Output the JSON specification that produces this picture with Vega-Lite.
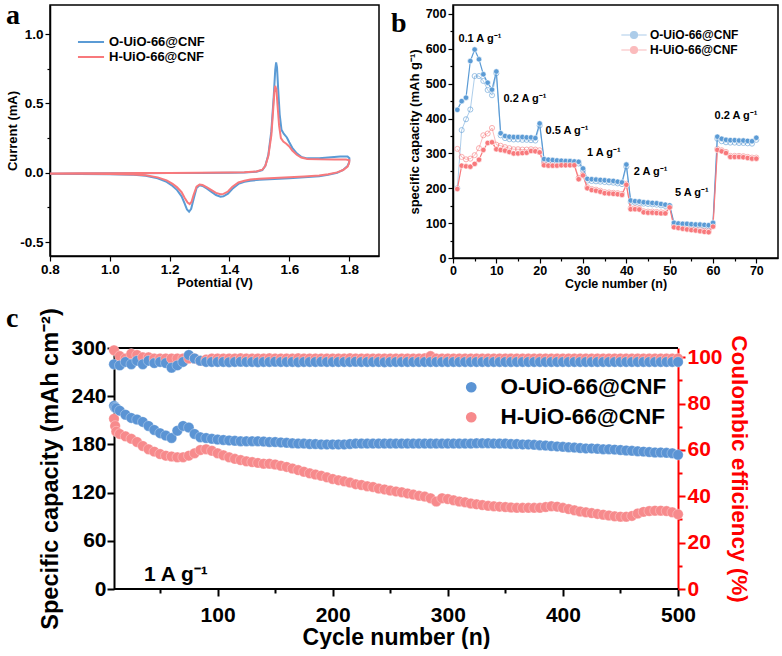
{
"$schema": "https://vega.github.io/schema/vega-lite/v6.json",
"padding": {"left": 5, "top": 0, "right": 0, "bottom": 0},
"background": "white",
"config": {
  "font": "Liberation Sans",
  "view": {"stroke": "black", "strokeWidth": 1.5},
  "axis": {"grid": false, "labelFont": "Liberation Sans", "titleFont": "Liberation Sans", "labelFontWeight": "bold", "titleFontWeight": "bold", "labelColor": "black", "titleColor": "black", "domainColor": "black", "tickColor": "black", "labelFlush": false, "labelOverlap": false},
  "legend": {"labelFont": "Liberation Sans", "labelFontWeight": "bold", "labelColor": "black", "labelLimit": 400}
},
"datasets": {
  "cv": [
    {"s":"O","k":0,"v":0.8,"i":-0.006},{"s":"O","k":1,"v":0.9,"i":-0.005},{"s":"O","k":2,"v":1.0,"i":-0.004},{"s":"O","k":3,"v":1.1,"i":-0.003},{"s":"O","k":4,"v":1.2,"i":-0.002},{"s":"O","k":5,"v":1.3,"i":-0.001},{"s":"O","k":6,"v":1.4,"i":0.001},{"s":"O","k":7,"v":1.45,"i":0.003},{"s":"O","k":8,"v":1.49,"i":0.008},{"s":"O","k":9,"v":1.51,"i":0.02},{"s":"O","k":10,"v":1.52,"i":0.05},{"s":"O","k":11,"v":1.53,"i":0.13},{"s":"O","k":12,"v":1.54,"i":0.3},{"s":"O","k":13,"v":1.548,"i":0.55},{"s":"O","k":14,"v":1.553,"i":0.74},{"s":"O","k":15,"v":1.556,"i":0.796},{"s":"O","k":16,"v":1.559,"i":0.76},{"s":"O","k":17,"v":1.563,"i":0.6},{"s":"O","k":18,"v":1.568,"i":0.42},{"s":"O","k":19,"v":1.574,"i":0.31},{"s":"O","k":20,"v":1.582,"i":0.28},{"s":"O","k":21,"v":1.592,"i":0.255},{"s":"O","k":22,"v":1.6,"i":0.22},{"s":"O","k":23,"v":1.61,"i":0.18},{"s":"O","k":24,"v":1.625,"i":0.14},{"s":"O","k":25,"v":1.64,"i":0.115},{"s":"O","k":26,"v":1.66,"i":0.104},{"s":"O","k":27,"v":1.7,"i":0.105},{"s":"O","k":28,"v":1.74,"i":0.112},{"s":"O","k":29,"v":1.77,"i":0.118},{"s":"O","k":30,"v":1.795,"i":0.117},{"s":"O","k":31,"v":1.801,"i":0.105},{"s":"O","k":32,"v":1.8,"i":0.075},{"s":"O","k":33,"v":1.795,"i":0.05},{"s":"O","k":34,"v":1.78,"i":0.02},{"s":"O","k":35,"v":1.76,"i":0.0},{"s":"O","k":36,"v":1.73,"i":-0.015},{"s":"O","k":37,"v":1.7,"i":-0.025},{"s":"O","k":38,"v":1.65,"i":-0.033},{"s":"O","k":39,"v":1.6,"i":-0.04},{"s":"O","k":40,"v":1.55,"i":-0.045},{"s":"O","k":41,"v":1.5,"i":-0.051},{"s":"O","k":42,"v":1.47,"i":-0.057},{"s":"O","k":43,"v":1.45,"i":-0.065},{"s":"O","k":44,"v":1.43,"i":-0.08},{"s":"O","k":45,"v":1.41,"i":-0.115},{"s":"O","k":46,"v":1.395,"i":-0.15},{"s":"O","k":47,"v":1.38,"i":-0.17},{"s":"O","k":48,"v":1.37,"i":-0.172},{"s":"O","k":49,"v":1.355,"i":-0.16},{"s":"O","k":50,"v":1.34,"i":-0.138},{"s":"O","k":51,"v":1.325,"i":-0.115},{"s":"O","k":52,"v":1.31,"i":-0.095},{"s":"O","k":53,"v":1.3,"i":-0.09},{"s":"O","k":54,"v":1.29,"i":-0.11},{"s":"O","k":55,"v":1.28,"i":-0.19},{"s":"O","k":56,"v":1.272,"i":-0.26},{"s":"O","k":57,"v":1.265,"i":-0.281},{"s":"O","k":58,"v":1.258,"i":-0.265},{"s":"O","k":59,"v":1.25,"i":-0.22},{"s":"O","k":60,"v":1.24,"i":-0.17},{"s":"O","k":61,"v":1.225,"i":-0.125},{"s":"O","k":62,"v":1.21,"i":-0.095},{"s":"O","k":63,"v":1.19,"i":-0.065},{"s":"O","k":64,"v":1.16,"i":-0.04},{"s":"O","k":65,"v":1.12,"i":-0.022},{"s":"O","k":66,"v":1.08,"i":-0.014},{"s":"O","k":67,"v":1.0,"i":-0.01},{"s":"O","k":68,"v":0.9,"i":-0.008},{"s":"O","k":69,"v":0.8,"i":-0.007},
    {"s":"H","k":0,"v":0.8,"i":-0.005},{"s":"H","k":1,"v":0.9,"i":-0.004},{"s":"H","k":2,"v":1.0,"i":-0.003},{"s":"H","k":3,"v":1.1,"i":-0.002},{"s":"H","k":4,"v":1.2,"i":-0.001},{"s":"H","k":5,"v":1.3,"i":0.0},{"s":"H","k":6,"v":1.4,"i":0.002},{"s":"H","k":7,"v":1.45,"i":0.004},{"s":"H","k":8,"v":1.49,"i":0.009},{"s":"H","k":9,"v":1.51,"i":0.022},{"s":"H","k":10,"v":1.52,"i":0.05},{"s":"H","k":11,"v":1.53,"i":0.12},{"s":"H","k":12,"v":1.54,"i":0.27},{"s":"H","k":13,"v":1.546,"i":0.45},{"s":"H","k":14,"v":1.55,"i":0.58},{"s":"H","k":15,"v":1.553,"i":0.627},{"s":"H","k":16,"v":1.557,"i":0.6},{"s":"H","k":17,"v":1.561,"i":0.48},{"s":"H","k":18,"v":1.566,"i":0.34},{"s":"H","k":19,"v":1.572,"i":0.25},{"s":"H","k":20,"v":1.58,"i":0.225},{"s":"H","k":21,"v":1.59,"i":0.21},{"s":"H","k":22,"v":1.6,"i":0.19},{"s":"H","k":23,"v":1.61,"i":0.16},{"s":"H","k":24,"v":1.625,"i":0.13},{"s":"H","k":25,"v":1.64,"i":0.11},{"s":"H","k":26,"v":1.66,"i":0.1},{"s":"H","k":27,"v":1.7,"i":0.097},{"s":"H","k":28,"v":1.75,"i":0.096},{"s":"H","k":29,"v":1.79,"i":0.095},{"s":"H","k":30,"v":1.801,"i":0.09},{"s":"H","k":31,"v":1.8,"i":0.07},{"s":"H","k":32,"v":1.795,"i":0.045},{"s":"H","k":33,"v":1.78,"i":0.02},{"s":"H","k":34,"v":1.76,"i":0.003},{"s":"H","k":35,"v":1.73,"i":-0.01},{"s":"H","k":36,"v":1.7,"i":-0.02},{"s":"H","k":37,"v":1.65,"i":-0.027},{"s":"H","k":38,"v":1.6,"i":-0.033},{"s":"H","k":39,"v":1.55,"i":-0.038},{"s":"H","k":40,"v":1.5,"i":-0.043},{"s":"H","k":41,"v":1.47,"i":-0.049},{"s":"H","k":42,"v":1.45,"i":-0.057},{"s":"H","k":43,"v":1.43,"i":-0.07},{"s":"H","k":44,"v":1.41,"i":-0.1},{"s":"H","k":45,"v":1.395,"i":-0.135},{"s":"H","k":46,"v":1.38,"i":-0.152},{"s":"H","k":47,"v":1.37,"i":-0.155},{"s":"H","k":48,"v":1.355,"i":-0.145},{"s":"H","k":49,"v":1.34,"i":-0.125},{"s":"H","k":50,"v":1.325,"i":-0.105},{"s":"H","k":51,"v":1.31,"i":-0.088},{"s":"H","k":52,"v":1.3,"i":-0.084},{"s":"H","k":53,"v":1.29,"i":-0.1},{"s":"H","k":54,"v":1.28,"i":-0.16},{"s":"H","k":55,"v":1.273,"i":-0.21},{"s":"H","k":56,"v":1.267,"i":-0.226},{"s":"H","k":57,"v":1.26,"i":-0.215},{"s":"H","k":58,"v":1.25,"i":-0.18},{"s":"H","k":59,"v":1.24,"i":-0.14},{"s":"H","k":60,"v":1.225,"i":-0.105},{"s":"H","k":61,"v":1.21,"i":-0.08},{"s":"H","k":62,"v":1.19,"i":-0.055},{"s":"H","k":63,"v":1.16,"i":-0.033},{"s":"H","k":64,"v":1.12,"i":-0.018},{"s":"H","k":65,"v":1.08,"i":-0.012},{"s":"H","k":66,"v":1.0,"i":-0.008},{"s":"H","k":67,"v":0.9,"i":-0.006},{"s":"H","k":68,"v":0.8,"i":-0.006}
  ],
  "pa": [{"v":0.653,"i":1.075,"t":"a"}],
  "pb": [{"n":-14.3,"y":648.3,"t":"b"}],
  "pc": [{"n":-83.8,"y":326.1,"t":"c"}],
  "cf": [{"a":10,"b":500,"y":0},{"a":10,"b":500,"y":300}],
  "rf": [
    {"n":1,"O":425,"H":198},{"n":2,"O":450,"H":265},{"n":3,"O":460,"H":263},{"n":4,"O":565,"H":262},{"n":5,"O":598,"H":270},{"n":6,"O":570,"H":282},{"n":7,"O":527,"H":310},{"n":8,"O":503,"H":330},{"n":9,"O":483,"H":332},{"n":10,"O":535,"H":312},
    {"n":11,"O":358,"H":310},{"n":12,"O":350,"H":308},{"n":13,"O":348,"H":304},{"n":14,"O":347,"H":300},{"n":15,"O":347,"H":300},{"n":16,"O":347,"H":301},{"n":17,"O":346,"H":302},{"n":18,"O":346,"H":307},{"n":19,"O":344,"H":306},{"n":20,"O":386,"H":303},
    {"n":21,"O":284,"H":266},{"n":22,"O":282,"H":265},{"n":23,"O":281,"H":265},{"n":24,"O":280,"H":265},{"n":25,"O":279,"H":266},{"n":26,"O":278,"H":266},{"n":27,"O":278,"H":266},{"n":28,"O":277,"H":266},{"n":29,"O":276,"H":226},{"n":30,"O":257,"H":237},
    {"n":31,"O":227,"H":200},{"n":32,"O":226,"H":195},{"n":33,"O":225,"H":193},{"n":34,"O":224,"H":190},{"n":35,"O":223,"H":186},{"n":36,"O":222,"H":185},{"n":37,"O":221,"H":184},{"n":38,"O":219,"H":183},{"n":39,"O":217,"H":181},{"n":40,"O":268,"H":210},
    {"n":41,"O":165,"H":140},{"n":42,"O":163,"H":140},{"n":43,"O":162,"H":139},{"n":44,"O":160,"H":131},{"n":45,"O":159,"H":130},{"n":46,"O":158,"H":130},{"n":47,"O":157,"H":129},{"n":48,"O":155,"H":128},{"n":49,"O":153,"H":128},{"n":50,"O":151,"H":145},
    {"n":51,"O":101,"H":88},{"n":52,"O":99,"H":86},{"n":53,"O":98,"H":84},{"n":54,"O":98,"H":82},{"n":55,"O":97,"H":80},{"n":56,"O":96,"H":79},{"n":57,"O":96,"H":77},{"n":58,"O":95,"H":75},{"n":59,"O":94,"H":74},{"n":60,"O":101,"H":90},
    {"n":61,"O":348,"H":310},{"n":62,"O":342,"H":306},{"n":63,"O":339,"H":301},{"n":64,"O":338,"H":290},{"n":65,"O":338,"H":290},{"n":66,"O":337,"H":290},{"n":67,"O":337,"H":289},{"n":68,"O":336,"H":287},{"n":69,"O":335,"H":285},{"n":70,"O":345,"H":285}
  ],
  "ro": [
    {"n":1,"O":200,"H":313},{"n":2,"O":367,"H":290},{"n":3,"O":398,"H":283},{"n":4,"O":426,"H":285},{"n":5,"O":522,"H":295},{"n":6,"O":522,"H":315},{"n":7,"O":508,"H":352},{"n":8,"O":482,"H":357},{"n":9,"O":467,"H":373},{"n":10,"O":530,"H":325},
    {"n":11,"O":352,"H":322},{"n":12,"O":344,"H":318},{"n":13,"O":341,"H":315},{"n":14,"O":340,"H":312},{"n":15,"O":340,"H":312},{"n":16,"O":339,"H":311},{"n":17,"O":339,"H":311},{"n":18,"O":338,"H":312},{"n":19,"O":337,"H":311},{"n":20,"O":380,"H":309},
    {"n":21,"O":279,"H":270},{"n":22,"O":277,"H":269},{"n":23,"O":276,"H":269},{"n":24,"O":275,"H":269},{"n":25,"O":274,"H":270},{"n":26,"O":273,"H":270},{"n":27,"O":273,"H":270},{"n":28,"O":272,"H":270},{"n":29,"O":271,"H":230},{"n":30,"O":252,"H":240},
    {"n":31,"O":222,"H":203},{"n":32,"O":221,"H":198},{"n":33,"O":220,"H":196},{"n":34,"O":219,"H":193},{"n":35,"O":218,"H":189},{"n":36,"O":217,"H":188},{"n":37,"O":216,"H":187},{"n":38,"O":214,"H":186},{"n":39,"O":212,"H":184},{"n":40,"O":262,"H":213},
    {"n":41,"O":161,"H":143},{"n":42,"O":159,"H":143},{"n":43,"O":158,"H":142},{"n":44,"O":156,"H":134},{"n":45,"O":155,"H":133},{"n":46,"O":154,"H":133},{"n":47,"O":153,"H":132},{"n":48,"O":151,"H":131},{"n":49,"O":149,"H":131},{"n":50,"O":147,"H":148},
    {"n":51,"O":98,"H":91},{"n":52,"O":96,"H":89},{"n":53,"O":95,"H":87},{"n":54,"O":95,"H":85},{"n":55,"O":94,"H":83},{"n":56,"O":93,"H":82},{"n":57,"O":93,"H":80},{"n":58,"O":92,"H":78},{"n":59,"O":91,"H":77},{"n":60,"O":98,"H":93},
    {"n":61,"O":342,"H":313},{"n":62,"O":335,"H":309},{"n":63,"O":332,"H":304},{"n":64,"O":331,"H":293},{"n":65,"O":331,"H":293},{"n":66,"O":330,"H":293},{"n":67,"O":330,"H":292},{"n":68,"O":329,"H":290},{"n":69,"O":328,"H":288},{"n":70,"O":339,"H":288}
  ],
  "ann": [
    {"n":6.2,"v":627,"t":"0.1 A g⁻¹"},{"n":16.6,"v":455,"t":"0.2 A g⁻¹"},{"n":26.3,"v":364,"t":"0.5 A g⁻¹"},{"n":34.8,"v":302,"t":"1 A g⁻¹"},{"n":45.6,"v":247,"t":"2 A g⁻¹"},{"n":55.1,"v":186,"t":"5 A g⁻¹"},{"n":65.3,"v":407,"t":"0.2 A g⁻¹"}
  ],
  "cap": [
    {"n":10,"H":212,"O":228},{"n":11,"H":203,"O":226},{"n":12,"H":196,"O":225},{"n":15,"H":193,"O":222},{"n":20,"H":190,"O":217},{"n":25,"H":187,"O":213},{"n":30,"H":183,"O":211},{"n":35,"H":178,"O":208},{"n":40,"H":174,"O":203},{"n":45,"H":171,"O":198},{"n":50,"H":168,"O":194},{"n":55,"H":166,"O":191},
    {"n":60,"H":165,"O":188},{"n":65,"H":164,"O":197},{"n":70,"H":164,"O":203},{"n":75,"H":166,"O":201},{"n":80,"H":169,"O":193},{"n":85,"H":173,"O":189},{"n":90,"H":174,"O":188},{"n":95,"H":172,"O":187},{"n":100,"H":169,"O":186},{"n":105,"H":166.5,"O":185.5},
    {"n":110,"H":164,"O":185},{"n":115,"H":162,"O":184.5},{"n":120,"H":160.5,"O":184},{"n":125,"H":159,"O":184},{"n":130,"H":158,"O":184},{"n":135,"H":157,"O":184},{"n":140,"H":156,"O":183.5},{"n":145,"H":156,"O":183},{"n":150,"H":155,"O":183},{"n":155,"H":153.5,"O":182.5},
    {"n":160,"H":152,"O":182},{"n":165,"H":150,"O":181.5},{"n":170,"H":148,"O":181},{"n":175,"H":146,"O":181},{"n":180,"H":144,"O":180.5},{"n":185,"H":142.5,"O":180.5},{"n":190,"H":141,"O":180},{"n":195,"H":139,"O":180},{"n":200,"H":137,"O":180},{"n":205,"H":135.5,"O":180},
    {"n":210,"H":134,"O":180},{"n":215,"H":132.5,"O":180.5},{"n":220,"H":130.5,"O":181},{"n":225,"H":129.5,"O":181},{"n":230,"H":128,"O":181},{"n":235,"H":127,"O":181},{"n":240,"H":125,"O":181},{"n":245,"H":124,"O":181},{"n":250,"H":122.5,"O":181},{"n":255,"H":121.5,"O":181},
    {"n":260,"H":120.5,"O":181},{"n":265,"H":119,"O":181},{"n":270,"H":117.5,"O":181},{"n":275,"H":116,"O":181},{"n":280,"H":115,"O":181},{"n":285,"H":113,"O":181},{"n":290,"H":109,"O":181},{"n":295,"H":113,"O":181},{"n":300,"H":112,"O":181},{"n":305,"H":110.5,"O":181},
    {"n":310,"H":109,"O":181},{"n":315,"H":108,"O":181},{"n":320,"H":106.5,"O":181},{"n":325,"H":105.5,"O":181.5},{"n":330,"H":104.5,"O":181.5},{"n":335,"H":103.5,"O":181.5},{"n":340,"H":103,"O":181},{"n":345,"H":102.5,"O":181},{"n":350,"H":102,"O":181},{"n":355,"H":101.5,"O":180.5},
    {"n":360,"H":101,"O":180.5},{"n":365,"H":101,"O":180},{"n":370,"H":101,"O":180},{"n":375,"H":101,"O":179.5},{"n":380,"H":101,"O":179},{"n":385,"H":102,"O":178.5},{"n":390,"H":103,"O":178},{"n":395,"H":102.5,"O":177.5},{"n":400,"H":101,"O":177},{"n":405,"H":99.5,"O":176.5},
    {"n":410,"H":98,"O":176},{"n":415,"H":96.5,"O":175.5},{"n":420,"H":95.5,"O":175},{"n":425,"H":94.5,"O":175},{"n":430,"H":93.5,"O":174.5},{"n":435,"H":92.5,"O":174},{"n":440,"H":91.5,"O":174},{"n":445,"H":90.5,"O":173.5},{"n":450,"H":90,"O":173},{"n":455,"H":90,"O":172.5},
    {"n":460,"H":91,"O":172},{"n":465,"H":94,"O":171.5},{"n":470,"H":96,"O":171},{"n":475,"H":97,"O":170.5},{"n":480,"H":97.5,"O":170},{"n":485,"H":97.5,"O":170},{"n":490,"H":97,"O":169.5},{"n":495,"H":95.5,"O":169},{"n":500,"H":93,"O":167}
  ],
  "ce": [
    {"n":10,"H":103,"O":97},{"n":15,"H":100.5,"O":96.5},{"n":20,"H":99.5,"O":98},{"n":25,"H":101.5,"O":97},{"n":30,"H":101,"O":98.5},{"n":35,"H":100,"O":97},{"n":40,"H":100,"O":98.5},{"n":45,"H":99.5,"O":97.5},{"n":50,"H":99.5,"O":98},{"n":55,"H":99.5,"O":97.5},
    {"n":60,"H":99.5,"O":95.5},{"n":65,"H":99.5,"O":96.5},{"n":70,"H":99.5,"O":98},{"n":75,"H":99.5,"O":101},{"n":80,"H":99.5,"O":99.5},{"n":85,"H":98.5,"O":98.5},{"n":90,"H":99,"O":98},{"n":95,"H":99.5,"O":98},{"n":100,"H":99.5,"O":98},{"n":105,"H":99.5,"O":98},
    {"n":110,"H":99.5,"O":97.9},{"n":115,"H":99.5,"O":98},{"n":120,"H":99.6,"O":98.1},{"n":125,"H":99.5,"O":98},{"n":130,"H":99.5,"O":98},{"n":135,"H":99.5,"O":97.9},{"n":140,"H":99.5,"O":98},{"n":145,"H":99.6,"O":98},{"n":150,"H":99.5,"O":98.1},{"n":155,"H":99.5,"O":98},
    {"n":160,"H":99.5,"O":98},{"n":165,"H":99.5,"O":98},{"n":170,"H":99.6,"O":97.9},{"n":175,"H":99.5,"O":98},{"n":180,"H":99.5,"O":98},{"n":185,"H":99.5,"O":98},{"n":190,"H":99.5,"O":98.1},{"n":195,"H":99.5,"O":98},{"n":200,"H":99.5,"O":98},{"n":205,"H":99.5,"O":98},
    {"n":210,"H":99.5,"O":98},{"n":215,"H":99.6,"O":98},{"n":220,"H":99.5,"O":98.1},{"n":225,"H":99.5,"O":98},{"n":230,"H":99.5,"O":98},{"n":235,"H":99.5,"O":98},{"n":240,"H":99.5,"O":98},{"n":245,"H":99.5,"O":97.9},{"n":250,"H":99.5,"O":98},{"n":255,"H":99.5,"O":98},
    {"n":260,"H":99.5,"O":98},{"n":265,"H":99.5,"O":98},{"n":270,"H":99.5,"O":98},{"n":275,"H":99.5,"O":98},{"n":280,"H":99.6,"O":98},{"n":285,"H":100.5,"O":98},{"n":290,"H":99.5,"O":98},{"n":295,"H":99.5,"O":98},{"n":300,"H":99.5,"O":98},{"n":305,"H":99.5,"O":98},
    {"n":310,"H":99.5,"O":98},{"n":315,"H":99.5,"O":98},{"n":320,"H":99.5,"O":98},{"n":325,"H":99.5,"O":98},{"n":330,"H":99.5,"O":98},{"n":335,"H":99.5,"O":98},{"n":340,"H":99.5,"O":98},{"n":345,"H":99.5,"O":98},{"n":350,"H":99.5,"O":98},{"n":355,"H":99.5,"O":98},
    {"n":360,"H":99.5,"O":98},{"n":365,"H":99.5,"O":98},{"n":370,"H":99.5,"O":98},{"n":375,"H":99.5,"O":98},{"n":380,"H":99.5,"O":98},{"n":385,"H":99.5,"O":98},{"n":390,"H":99.5,"O":98},{"n":395,"H":99.5,"O":98},{"n":400,"H":99.5,"O":98},{"n":405,"H":99.5,"O":98},
    {"n":410,"H":99.5,"O":98},{"n":415,"H":99.5,"O":98},{"n":420,"H":99.5,"O":98},{"n":425,"H":99.5,"O":98},{"n":430,"H":99.5,"O":98},{"n":435,"H":99.5,"O":98},{"n":440,"H":99.5,"O":98},{"n":445,"H":99.5,"O":98},{"n":450,"H":99.5,"O":98},{"n":455,"H":99.5,"O":98},
    {"n":460,"H":99.5,"O":98},{"n":465,"H":99.5,"O":98},{"n":470,"H":99.5,"O":98},{"n":475,"H":99.5,"O":98},{"n":480,"H":99.5,"O":98},{"n":485,"H":99.5,"O":98},{"n":490,"H":99.5,"O":98},{"n":495,"H":99.5,"O":98},{"n":500,"H":99.5,"O":98}
  ],
  "lbl": [{"n":36,"v":10,"t":"1 A g⁻¹"}]
},
"spacing": 14,
"resolve": {"scale": {"color": "independent"}, "legend": {"color": "independent"}},
"vconcat": [
  {
    "spacing": 10,
    "resolve": {"scale": {"color": "independent"}, "legend": {"color": "independent"}},
    "hconcat": [
      {
        "width": 329, "height": 251,
        "layer": [
          {
            "data": {"name": "cv"},
            "mark": {"type": "line", "strokeWidth": 2, "interpolate": "linear"},
            "encoding": {
              "x": {"field": "v", "type": "quantitative", "scale": {"domain": [0.8, 1.9], "nice": false, "zero": false},
                "axis": {"title": "Potential (V)", "values": [0.8,0.9,1.0,1.1,1.2,1.3,1.4,1.5,1.6,1.7,1.8],
                  "labelExpr": "abs(datum.value*5-round(datum.value*5))<0.01 ? format(datum.value,'.1f') : ''",
                  "tickSize": {"condition": {"test": "abs(datum.value*5-round(datum.value*5))>0.01", "value": 3}, "value": 5},
                  "labelFontSize": 13.5, "titleFontSize": 13, "labelPadding": 1, "titlePadding": 1, "domainWidth": 1.5, "tickWidth": 1.2}},
              "y": {"field": "i", "type": "quantitative", "scale": {"domain": [-0.6, 1.21], "nice": false, "zero": false},
                "axis": {"title": "Current (mA)", "values": [-0.5,-0.25,0,0.25,0.5,0.75,1.0],
                  "labelExpr": "abs(datum.value*2-round(datum.value*2))<0.01 ? replace(format(datum.value,'.1f'),'−','-') : ''",
                  "tickSize": {"condition": {"test": "abs(datum.value*2-round(datum.value*2))>0.01", "value": 3}, "value": 5},
                  "labelFontSize": 13.5, "titleFontSize": 13, "labelPadding": 2, "titlePadding": 0, "domainWidth": 1.5, "tickWidth": 1.2}},
              "color": {"field": "s", "type": "nominal", "scale": {"domain": ["O","H"], "range": ["#5b9bd5", "#f8797c"]},
                "legend": {"title": null, "orient": "none", "legendX": 33, "legendY": 29, "symbolType": "M-2,0L2,0", "symbolSize": 170, "symbolStrokeWidth": 2, "labelFontSize": 13, "rowPadding": 0, "labelOffset": 10,
                  "labelExpr": "datum.value=='O' ? 'O-UiO-66@CNF' : 'H-UiO-66@CNF'"}},
              "order": {"field": "k", "type": "quantitative"}
            }
          },
          {
            "data": {"name": "pa"},
            "mark": {"type": "text", "font": "Liberation Serif", "fontSize": 28, "fontWeight": "bold", "color": "black", "align": "left", "baseline": "alphabetic"},
            "encoding": {"x": {"field": "v", "type": "quantitative"}, "y": {"field": "i", "type": "quantitative"}, "text": {"field": "t"}}
          }
        ]
      },
      {
        "width": 325, "height": 253,
        "layer": [
          {"data": {"name": "ro"}, "transform": [{"fold": ["O","H"], "as": ["s","y"]}],
           "mark": {"type": "line", "strokeWidth": 1, "opacity": 0.5},
           "encoding": {"x": {"field": "n", "type": "quantitative"}, "y": {"field": "y", "type": "quantitative"}, "color": {"field": "s", "type": "nominal"}}},
          {"data": {"name": "ro"}, "transform": [{"fold": ["O","H"], "as": ["s","y"]}],
           "mark": {"type": "point", "shape": "circle", "filled": false, "size": 26, "strokeWidth": 1, "opacity": 0.6},
           "encoding": {"x": {"field": "n", "type": "quantitative"}, "y": {"field": "y", "type": "quantitative"}, "color": {"field": "s", "type": "nominal"}}},
          {"data": {"name": "rf"}, "transform": [{"fold": ["O","H"], "as": ["s","y"]}],
           "mark": {"type": "line", "strokeWidth": 1.2},
           "encoding": {"x": {"field": "n", "type": "quantitative"}, "y": {"field": "y", "type": "quantitative"}, "color": {"field": "s", "type": "nominal"}}},
          {"data": {"name": "rf"}, "transform": [{"fold": ["O","H"], "as": ["s","y"]}],
           "mark": {"type": "point", "shape": "circle", "filled": true, "size": 30, "opacity": 1, "stroke": "white", "strokeWidth": 0.6},
           "encoding": {"x": {"field": "n", "type": "quantitative"}, "y": {"field": "y", "type": "quantitative"}, "color": {"field": "s", "type": "nominal"}}},
          {"data": {"name": "ann"}, "mark": {"type": "text", "fontSize": 11, "fontWeight": "bold", "align": "center", "baseline": "middle"},
           "encoding": {"x": {"field": "n", "type": "quantitative"}, "y": {"field": "v", "type": "quantitative"}, "text": {"field": "t"}, "color": {"value": "black"}}},
          {"data": {"name": "pb"}, "mark": {"type": "text", "font": "Liberation Serif", "fontSize": 28, "fontWeight": "bold", "align": "left", "baseline": "alphabetic"},
           "encoding": {"x": {"field": "n", "type": "quantitative"}, "y": {"field": "y", "type": "quantitative"}, "text": {"field": "t"}, "color": {"value": "black"}}}
        ],
        "encoding": {
          "x": {"field": "n", "type": "quantitative", "scale": {"domain": [0, 75], "nice": false},
            "axis": {"title": "Cycle number (n)", "values": [0,5,10,15,20,25,30,35,40,45,50,55,60,65,70],
              "labelExpr": "datum.value%10==0 ? datum.label : ''",
              "tickSize": {"condition": {"test": "datum.value%10!=0", "value": 3}, "value": 5},
              "labelFontSize": 12.5, "titleFontSize": 12.5, "labelPadding": 1, "titlePadding": 1, "domainWidth": 1.5, "tickWidth": 1.2}},
          "y": {"field": "y", "type": "quantitative", "scale": {"domain": [0, 725.8], "nice": false},
            "axis": {"title": "specific capacity (mAh g⁻¹)", "values": [0,50,100,150,200,250,300,350,400,450,500,550,600,650,700],
              "labelExpr": "datum.value%100==0 ? datum.label : ''",
              "tickSize": {"condition": {"test": "datum.value%100!=0", "value": 3}, "value": 5},
              "labelFontSize": 12.5, "titleFontSize": 13, "labelPadding": 2, "titlePadding": 4, "domainWidth": 1.5, "tickWidth": 1.2}},
          "color": {"field": "s", "type": "nominal", "scale": {"domain": ["O","H"], "range": ["#5b9bd5", "#f8797c"]},
            "legend": {"title": null, "orient": "none", "legendX": 174, "legendY": 23, "labelFontSize": 12, "rowPadding": 2, "symbolSize": 160, "labelOffset": 9, "symbolStrokeWidth": 1.2,
              "symbolType": "M-2,0L-0.55,0M0.55,0L2,0M0.55,0A0.55,0.55,0,1,1,-0.55,0A0.55,0.55,0,1,1,0.55,0",
              "labelExpr": "datum.value=='O' ? 'O-UiO-66@CNF' : 'H-UiO-66@CNF'"}}
        }
      }
    ]
  },
  {
    "width": 628, "height": 241,
    "view": {"stroke": null},
    "layer": [
      {
        "layer": [
          {"data": {"name": "cf"}, "mark": {"type": "rule", "strokeWidth": 2, "color": "black"},
           "encoding": {"x": {"field": "a", "type": "quantitative"}, "x2": {"field": "b"}, "y": {"field": "y", "type": "quantitative"}}},
          {"data": {"name": "cap"}, "transform": [{"fold": ["H","O"], "as": ["s","y"]}],
           "mark": {"type": "point", "shape": "circle", "filled": true, "size": 110, "opacity": 1, "stroke": "white", "strokeWidth": 0.5, "strokeOpacity": 0.6},
           "encoding": {
             "x": {"field": "n", "type": "quantitative", "scale": {"domain": [-45.6, 500], "nice": false, "zero": false},
               "axis": {"title": "Cycle number (n)", "values": [50,100,150,200,250,300,350,400,450,500], "domain": false, "titleX": 346,
                 "labelExpr": "datum.value%100==0 ? datum.label : ''",
                 "tickSize": {"condition": {"test": "datum.value%100!=0", "value": 4}, "value": 7},
                 "labelFontSize": 21, "titleFontSize": 23, "labelPadding": 8, "titlePadding": 1, "tickWidth": 2}},
             "y": {"field": "y", "type": "quantitative", "scale": {"domain": [0, 300], "nice": false},
               "axis": {"title": "Specific capacity (mAh cm⁻²)", "values": [0,30,60,90,120,150,180,210,240,270,300], "offset": -64,
                 "labelExpr": "datum.value%60==0 ? datum.label : ''",
                 "tickSize": {"condition": {"test": "datum.value%60!=0", "value": 4}, "value": 7},
                 "labelFontSize": 21, "titleFontSize": 23.5, "labelPadding": 1, "titlePadding": 8, "domainWidth": 2, "tickWidth": 2}},
             "color": {"field": "s", "type": "nominal", "scale": {"domain": ["O","H"], "range": ["#5b94d4", "#f78a8c"]},
               "legend": {"title": null, "orient": "none", "legendX": 410, "legendY": 28, "labelFontSize": 22.5, "rowPadding": 7, "symbolSize": 150, "labelOffset": 18,
                 "labelExpr": "datum.value=='O' ? 'O-UiO-66@CNF' : 'H-UiO-66@CNF'"}}
           }},
          {"data": {"name": "lbl"}, "mark": {"type": "text", "fontSize": 21, "fontWeight": "bold", "color": "black", "align": "left", "baseline": "alphabetic"},
           "encoding": {"x": {"field": "n", "type": "quantitative"}, "y": {"field": "v", "type": "quantitative"}, "text": {"field": "t"}}},
          {"data": {"name": "pc"}, "mark": {"type": "text", "font": "Liberation Serif", "fontSize": 28, "fontWeight": "bold", "color": "black", "align": "left", "baseline": "alphabetic"},
           "encoding": {"x": {"field": "n", "type": "quantitative"}, "y": {"field": "y", "type": "quantitative"}, "text": {"field": "t"}}}
        ]
      },
      {"data": {"name": "ce"}, "transform": [{"fold": ["H","O"], "as": ["s","e"]}],
       "mark": {"type": "point", "shape": "circle", "filled": true, "size": 110, "opacity": 1, "stroke": "white", "strokeWidth": 0.5, "strokeOpacity": 0.6},
       "encoding": {
         "x": {"field": "n", "type": "quantitative"},
         "y": {"field": "e", "type": "quantitative", "scale": {"domain": [0, 104], "nice": false},
           "axis": {"orient": "right", "title": "Coulombic efficiency (%)", "values": [0,10,20,30,40,50,60,70,80,90,100],
             "labelExpr": "datum.value%20==0 ? datum.label : ''",
             "tickSize": {"condition": {"test": "datum.value%20!=0", "value": 4}, "value": 7},
             "labelFontSize": 21, "titleFontSize": 22.5, "labelPadding": 2, "titlePadding": 4, "domainWidth": 2, "tickWidth": 2,
             "domainColor": "#ff0000", "tickColor": "#ff0000", "labelColor": "#ff0000", "titleColor": "#ff0000"}},
         "color": {"field": "s", "type": "nominal"}
       }}
    ],
    "resolve": {"scale": {"y": "independent"}}
  }
]
}
